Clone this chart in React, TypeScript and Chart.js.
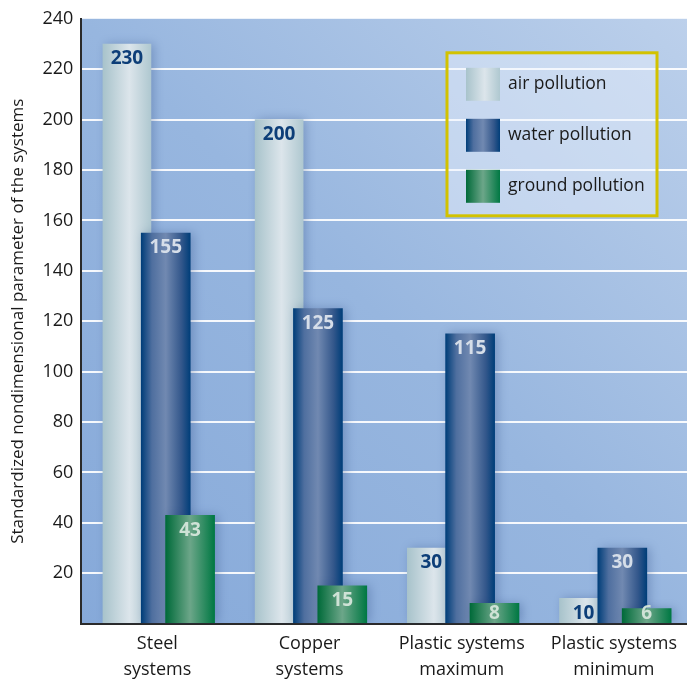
import React, { useEffect, useRef } from 'react';
import { Chart, registerables } from 'chart.js';

Chart.register(...registerables);

// ---- data ----
const categories: string[][] = [
  ['Steel', 'systems'],
  ['Copper', 'systems'],
  ['Plastic systems', 'maximum'],
  ['Plastic systems', 'minimum'],
];
const seriesNames = ['air pollution', 'water pollution', 'ground pollution'];
const airValues = [230, 200, 30, 10];
const waterValues = [155, 125, 115, 30];
const groundValues = [43, 15, 8, 6];
const yAxisTitle = 'Standardized nondimensional parameter of the systems';
const yMin = 0;
const yMax = 240;
const yStep = 20;

// ---- style ----
const FONT = '"Open Sans", "DejaVu Sans", sans-serif';
const TEXT = '#1a1a1a';
const OFFSETS = [-0.2, 0.055, 0.215];
const BAR_W = [48, 49, 49];
const GRADS: [number, string][][] = [
  [[0, '#a8c3cb'], [0.55, '#dce5eb'], [1, '#afc8d0']],
  [[0, '#003e79'], [0.22, '#4f6f9f'], [0.5, '#7189b1'], [0.82, '#33578b'], [1, '#003e79']],
  [[0, '#006a39'], [0.5, '#6ca689'], [1, '#007843']],
];
const LABEL_COLORS = ['#0d3e78', '#d6dee9', '#cfe2d6'];

function makeGrad(ctx: CanvasRenderingContext2D, x0: number, x1: number, stops: [number, string][]) {
  const g = ctx.createLinearGradient(x0, 0, x1, 0);
  stops.forEach(([o, c]) => g.addColorStop(o, c));
  return g;
}

const bgPlugin = {
  id: 'bgPlugin',
  beforeDraw(chart: any) {
    const { ctx, chartArea: a } = chart;
    if (!a) return;
    ctx.save();
    const g = ctx.createLinearGradient(a.left, a.bottom, a.right, a.top);
    g.addColorStop(0, '#86a9d9');
    g.addColorStop(0.5, '#97b6df');
    g.addColorStop(1, '#bcd0eb');
    ctx.fillStyle = g;
    ctx.fillRect(a.left, a.top, a.right - a.left, a.bottom - a.top);
    ctx.restore();
  },
};

const barDecor = {
  id: 'barDecor',
  beforeDatasetsDraw(chart: any) {
    const ctx = chart.ctx;
    ctx.save();
    ctx.shadowColor = 'rgba(30, 60, 120, 0.3)';
    ctx.shadowBlur = 10;
    ctx.shadowOffsetX = 3;
    ctx.shadowOffsetY = 0;
  },
  afterDatasetsDraw(chart: any) {
    const ctx = chart.ctx;
    ctx.restore();
    ctx.save();
    ctx.font = `bold 19px ${FONT}`;
    ctx.textAlign = 'center';
    ctx.textBaseline = 'middle';
    chart.data.datasets.forEach((ds: any, k: number) => {
      const meta = chart.getDatasetMeta(k);
      meta.data.forEach((el: any, i: number) => {
        const v = ds.data[i].y;
        const y = Math.min(el.y + 15, el.base - 9);
        ctx.fillStyle = LABEL_COLORS[k];
        ctx.fillText(String(v), el.x, y);
      });
    });
    ctx.restore();
  },
};

const legendPlugin = {
  id: 'boxLegend',
  afterDraw(chart: any) {
    const { ctx, chartArea: a } = chart;
    const bx = a.right - 240;
    const by = a.top + 34;
    const bw = 210;
    const bh = 163;
    ctx.save();
    ctx.fillStyle = 'rgba(235, 242, 252, 0.45)';
    ctx.fillRect(bx, by, bw, bh);
    ctx.strokeStyle = '#d2c200';
    ctx.lineWidth = 3;
    ctx.strokeRect(bx, by, bw, bh);
    ctx.font = `17.5px ${FONT}`;
    ctx.textAlign = 'left';
    ctx.textBaseline = 'middle';
    chart.data.datasets.forEach((ds: any, k: number) => {
      const sx = bx + 19;
      const sy = by + 15 + k * 51;
      ctx.fillStyle = makeGrad(ctx, sx, sx + 34, GRADS[k]);
      ctx.fillRect(sx, sy, 34, 33);
      ctx.fillStyle = TEXT;
      ctx.fillText(ds.label, bx + 61, sy + 16);
    });
    ctx.restore();
  },
};

export default function App() {
  const ref = useRef<HTMLCanvasElement | null>(null);

  useEffect(() => {
    let chart: Chart | null = null;
    let cancelled = false;

    const build = () => {
      if (cancelled || !ref.current) return;
      const seriesValues = [airValues, waterValues, groundValues];
      const datasets = seriesValues.map((vals, k) => ({
        label: seriesNames[k],
        data: vals.map((v, i) => ({ x: i + OFFSETS[k], y: v })),
        barThickness: BAR_W[k],
        grouped: false,
        order: 3 - k,
        borderWidth: 0,
        backgroundColor: (c: any) => {
          const ch = c.chart;
          if (!ch.chartArea || c.type !== 'data' || !c.raw) return GRADS[k][1][1];
          const cx = ch.scales.x.getPixelForValue(c.raw.x);
          const w = BAR_W[k];
          return makeGrad(ch.ctx, cx - w / 2, cx + w / 2, GRADS[k]);
        },
      }));

      chart = new Chart(ref.current, {
        type: 'bar',
        data: { datasets } as any,
        options: {
          animation: false,
          responsive: false,
          layout: { padding: { left: 8, right: 0, top: 16, bottom: -10 } },
          plugins: {
            legend: { display: false },
            tooltip: { enabled: false },
          },
          scales: {
            x: {
              type: 'linear',
              offset: false,
              min: -0.5,
              max: 3.48,
              grid: { display: false, drawTicks: false, offset: false },
              border: { display: true, color: '#2a2a2a', width: 2 },
              afterBuildTicks: (scale: any) => {
                scale.ticks = categories.map((_, i) => ({ value: i }));
              },
              ticks: {
                autoSkip: false,
                maxRotation: 0,
                minRotation: 0,
                padding: 8,
                color: TEXT,
                font: { family: FONT, size: 18, lineHeight: 1.4 },
                callback: (v: any) => categories[v] ?? '',
              },
            },
            y: {
              min: yMin,
              max: yMax,
              grid: {
                drawTicks: false,
                lineWidth: 2,
                color: (c: any) =>
                  c.tick && (c.tick.value === yMin || c.tick.value === yMax)
                    ? 'rgba(0,0,0,0)'
                    : 'rgba(255,255,255,0.92)',
              },
              border: { display: true, color: '#2a2a2a', width: 2 },
              ticks: {
                stepSize: yStep,
                padding: 8,
                color: TEXT,
                font: { family: FONT, size: 18 },
                callback: (v: any) => (v === yMin ? '' : String(v)),
              },
              title: {
                display: true,
                text: yAxisTitle,
                color: TEXT,
                font: { family: FONT, size: 17 },
                padding: { top: 0, bottom: 6 },
              },
            },
          },
        } as any,
        plugins: [bgPlugin, barDecor, legendPlugin],
      });
    };

    const fonts: any = (document as any).fonts;
    if (fonts && fonts.load) {
      Promise.all([
        fonts.load(`18px "Open Sans"`),
        fonts.load(`bold 19px "Open Sans"`),
      ])
        .catch(() => null)
        .then(build);
    } else {
      build();
    }

    return () => {
      cancelled = true;
      if (chart) chart.destroy();
    };
  }, []);

  return (
    <div style={{ position: 'absolute', left: 0, top: 0, width: 687, height: 680, background: '#fff' }}>
      <canvas ref={ref} width={687} height={680} style={{ display: 'block', width: 687, height: 680 }} />
    </div>
  );
}
